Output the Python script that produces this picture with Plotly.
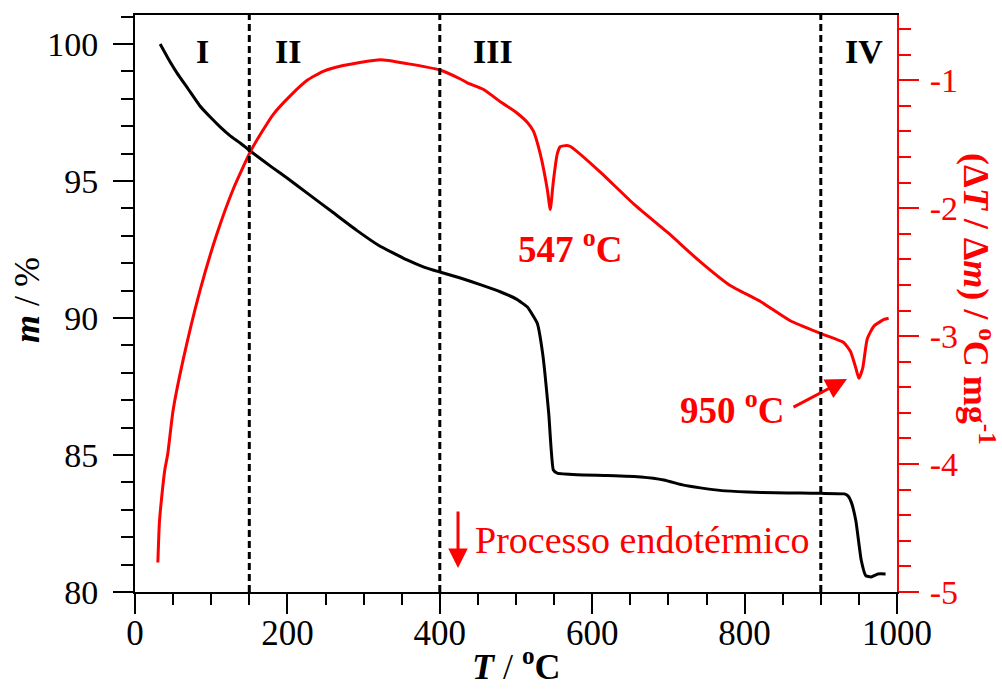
import plotly.graph_objects as go

# ---- data ----
T_mass = [33, 45, 55, 70, 85, 100, 112, 125, 138, 153, 180, 200, 226, 260, 291, 320,
          357, 380, 400, 427, 455, 480, 500, 515, 522, 528, 535, 543, 549, 554, 580, 620,
          664, 694, 720, 742, 770, 804, 840, 874, 900, 931, 936, 940, 946, 953, 959, 966,
          975, 985]
m_pct = [100.0, 99.4, 98.95, 98.35, 97.75, 97.3, 96.97, 96.65, 96.39, 96.06, 95.5,
         95.1, 94.56, 93.85, 93.2, 92.65, 92.12, 91.85, 91.68, 91.46, 91.2, 90.95, 90.7,
         90.4, 90.1, 89.8, 88.7, 86.5, 84.45, 84.34, 84.28, 84.25, 84.2, 84.09, 83.9, 83.8,
         83.7, 83.65, 83.62, 83.61, 83.6, 83.58, 83.5, 83.28, 82.6, 81.17, 80.6, 80.55,
         80.66, 80.66]

T_dta = [30, 32, 35, 39, 43, 50, 63, 85, 107, 129, 153, 181, 204, 226, 247, 269, 322, 357,
         400, 427, 436, 457, 480, 500, 515, 523, 532, 541, 545, 549, 554, 558, 567, 572,
         611, 655, 699, 742, 780, 821, 860, 900, 930, 939, 946, 950, 955, 961, 970, 983, 989]
dta = [-4.77, -4.46, -4.26, -4.05, -3.92, -3.58, -3.19, -2.65, -2.21, -1.85, -1.54, -1.27,
       -1.12, -1.0, -0.93, -0.89, -0.84, -0.87, -0.92, -0.99, -1.02, -1.07, -1.17, -1.25,
       -1.33, -1.40, -1.58, -1.85, -2.01, -1.79, -1.58, -1.52, -1.51, -1.52, -1.72, -1.97,
       -2.19, -2.42, -2.6, -2.73, -2.88, -2.98, -3.05, -3.12, -3.25, -3.33, -3.25, -3.02,
       -2.92, -2.87, -2.86]

x_ticks = [0, 200, 400, 600, 800, 1000]
y_ticks = [80, 85, 90, 95, 100]
y2_ticks = [-5, -4, -3, -2, -1]
y2_ticktext = ["-5", "-4", "-3", "-2", "-1"]
stage_T = [150, 400, 900]
stage_labels = ["I", "II", "III", "IV"]
stage_label_T = [88, 201, 470, 957]

FONT = "Liberation Serif, Times New Roman, serif"
RED = "#ff0000"

fig = go.Figure()
fig.add_trace(go.Scatter(x=T_mass, y=m_pct, mode="lines",
                         line=dict(color="black", width=3, shape="spline", smoothing=0.4),
                         yaxis="y"))
fig.add_trace(go.Scatter(x=T_dta, y=dta, mode="lines",
                         line=dict(color=RED, width=3, shape="spline", smoothing=0.5),
                         yaxis="y2"))

shapes = []
for t in stage_T:
    shapes.append(dict(type="line", xref="x", yref="paper", x0=t, x1=t, y0=0, y1=1,
                       line=dict(color="black", width=3, dash="7px,4px")))

annotations = []
for lab, t in zip(stage_labels, stage_label_T):
    annotations.append(dict(x=t, y=0.9376, xref="x", yref="paper", text="<b>%s</b>" % lab,
                            showarrow=False, font=dict(family=FONT, size=34, color="black"),
                            xanchor="center", yanchor="middle"))

annotations += [
    dict(x=571, y=-2.30, xref="x", yref="y2", text="<b>547 <sup>o</sup>C</b>", showarrow=False,
         font=dict(family=FONT, size=37, color=RED), xanchor="center", yanchor="middle"),
    dict(x=783, y=-3.56, xref="x", yref="y2", text="<b>950 <sup>o</sup>C</b>", showarrow=False,
         font=dict(family=FONT, size=37, color=RED), xanchor="center", yanchor="middle"),
    dict(x=934.4, y=-3.335, xref="x", yref="y2", text="", showarrow=True, ax=-55, ay=29,
         arrowhead=2, arrowsize=1.4, arrowwidth=3, arrowcolor=RED),
    dict(x=423.9, y=-4.813, xref="x", yref="y2", text="", showarrow=True, ax=0, ay=-58,
         arrowhead=2, arrowsize=1.3, arrowwidth=3, arrowcolor=RED),
    dict(x=444, y=-4.595, xref="x", yref="y2", text="Processo endotérmico", showarrow=False,
         font=dict(family=FONT, size=38, color=RED), xanchor="left", yanchor="middle"),
    dict(x=0.5, y=-0.1265, xref="paper", yref="paper",
         text="<b><i>T</i></b> / <b><sup>o</sup>C</b>", showarrow=False,
         font=dict(family=FONT, size=36, color="black"), xanchor="center", yanchor="middle"),
    dict(x=-0.1417, y=0.506, xref="paper", yref="paper", text="<b><i>m</i></b> / %",
         showarrow=False, textangle=-90,
         font=dict(family=FONT, size=36, color="black"), xanchor="center", yanchor="middle"),
    dict(x=1.106, y=0.508, xref="paper", yref="paper",
         text="<b>(Δ<i>T</i> / Δ<i>m</i>) / <sup>o</sup>C mg<sup>-1</sup></b>",
         showarrow=False, textangle=90,
         font=dict(family=FONT, size=36, color=RED), xanchor="center", yanchor="middle"),
]

fig.update_layout(
    width=1002, height=691,
    margin=dict(l=135, r=105, t=15, b=99),
    plot_bgcolor="white", paper_bgcolor="white",
    showlegend=False,
    font=dict(family=FONT, size=34, color="black"),
    shapes=shapes, annotations=annotations,
    xaxis=dict(range=[0, 1000], tickmode="array", tickvals=x_ticks, ticks="outside",
               ticklen=20, tickwidth=2, tickcolor="black", showline=True, linecolor="black",
               linewidth=2, mirror=True, showgrid=False, zeroline=False,
               ticklabelstandoff=-11,
               tickfont=dict(family=FONT, size=35, color="black"),
               minor=dict(tickmode="linear", tick0=0, dtick=50, ticks="outside", ticklen=11,
                          tickwidth=2, tickcolor="black", showgrid=False)),
    yaxis=dict(range=[80, 101.06], tickmode="array", tickvals=y_ticks, ticks="outside",
               ticklen=20, tickwidth=2, tickcolor="black", showline=True, linecolor="black",
               linewidth=2, showgrid=False, zeroline=False, ticklabelstandoff=8,
               tickfont=dict(family=FONT, size=34, color="black"),
               minor=dict(tickmode="linear", tick0=80, dtick=1, ticks="outside", ticklen=12,
                          tickwidth=2, tickcolor="black", showgrid=False)),
    yaxis2=dict(range=[-5, -0.49], overlaying="y", side="right", tickmode="array",
                tickvals=y2_ticks, ticktext=y2_ticktext, ticks="outside", ticklen=20,
                tickwidth=2, tickcolor=RED, showline=True, linecolor=RED, linewidth=2,
                showgrid=False, zeroline=False, ticklabelstandoff=4,
                tickfont=dict(family=FONT, size=34, color=RED),
                minor=dict(tickmode="linear", tick0=-5, dtick=0.2, ticks="outside",
                           ticklen=12, tickwidth=2, tickcolor=RED, showgrid=False)),
)

fig.write_html("out.html")
